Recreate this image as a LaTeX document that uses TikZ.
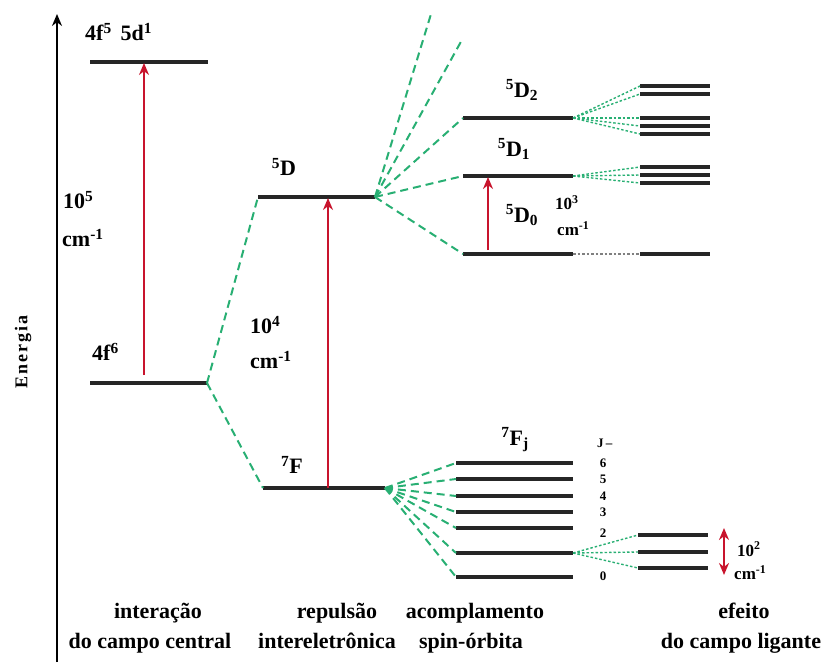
\documentclass[tikz,border=0pt]{standalone}
\usepackage{fontspec}
\setmainfont{Liberation Serif}
\newfontfamily\spacedfont[LetterSpace=12]{Liberation Serif}
\usetikzlibrary{arrows.meta}
\definecolor{splitgreen}{RGB}{40,175,115}
\definecolor{transred}{RGB}{200,20,45}

\begin{document}
\begin{tikzpicture}[x=1pt, y=-1pt, >={Stealth[length=12pt, width=10pt]},
    level/.style={line width=3.2pt, black!85},
    split/.style={splitgreen, line width=2pt, dash pattern=on 8pt off 5pt},
    fine/.style={splitgreen, line width=1.4pt, dash pattern=on 2.5pt off 2pt},
    trans/.style={->, transred, line width=2pt},
    lbl/.style={font=\bfseries\fontsize{22}{24}\selectfont, inner sep=0pt},
    small/.style={font=\bfseries\fontsize{17}{19}\selectfont, inner sep=0pt},
    jnum/.style={font=\bfseries\fontsize{13}{14}\selectfont, inner sep=0pt},
    caption/.style={font=\bfseries\fontsize{22}{30}\selectfont, anchor=base, inner sep=0pt}]
  \useasboundingbox (0,0) rectangle (824,662);

  % 1. eixo de energia
  \draw[->, line width=2.8pt] (57,662) -- (57,14);
  \node[rotate=90, font=\spacedfont\bfseries\fontsize{18}{19}\selectfont] (energia) at (23,352) {Energia};

  % 2. campo central
  \coordinate (fd-l) at (90,62);  \coordinate (fd-r) at (208,62);
  \coordinate (f6-l) at (90,383); \coordinate (f6-r) at (207,383);
  \draw[level] (fd-l) -- (fd-r);
  \draw[level] (f6-l) -- (f6-r);
  \node[lbl, anchor=west] (fd-lbl) at (85,32) {4f\textsuperscript{5}\hspace{0.4em}5d\textsuperscript{1}};
  \node[lbl, anchor=west] (f6-lbl) at (92,352) {4f\textsuperscript{6}};
  \coordinate (t1-a) at (144,375); \coordinate (t1-b) at (144,63);
  \draw[trans] (t1-a) -- (t1-b);
  \node[lbl, anchor=west] (e5) at (63,200) {10\textsuperscript{5}};
  \node[lbl, anchor=west] (e5u) at (62,238) {cm\textsuperscript{-1}};

  % 3. repulsao intereletronica
  \coordinate (d5-l) at (258,197); \coordinate (d5-r) at (375,197);
  \coordinate (f7-l) at (263,488); \coordinate (f7-r) at (385,488);
  \draw[level] (d5-l) -- (d5-r);
  \draw[level] (f7-l) -- (f7-r);
  \draw[split] (f6-r) -- (d5-l);
  \draw[split] (f6-r) -- (f7-l);
  \node[lbl] (d5-lbl) at (284,167) {\textsuperscript{5}D};
  \node[lbl] (f7-lbl) at (292,465) {\textsuperscript{7}F};
  \coordinate (t2-a) at (328,488); \coordinate (t2-b) at (328,198);
  \draw[trans] (t2-a) -- (t2-b);
  \node[lbl, anchor=west] (e4) at (250,325) {10\textsuperscript{4}};
  \node[lbl, anchor=west] (e4u) at (250,360) {cm\textsuperscript{-1}};

  % 4. acoplamento spin-orbita
  \coordinate (open-a) at (431,14); \coordinate (open-b) at (463,38);
  \foreach \j/\y in {2/118, 1/176, 0/254} {
    \coordinate (dj\j-l) at (463,\y); \coordinate (dj\j-r) at (573,\y);
    \draw[level] (dj\j-l) -- (dj\j-r);
    \draw[split] (d5-r) -- (dj\j-l);
  }
  \draw[split] (d5-r) -- (open-a);
  \draw[split] (d5-r) -- (open-b);
  \node[lbl] (dj2-lbl) at (522,90) {\textsuperscript{5}D\textsubscript{2}};
  \node[lbl] (dj1-lbl) at (514,149) {\textsuperscript{5}D\textsubscript{1}};
  \node[lbl] (dj0-lbl) at (522,215) {\textsuperscript{5}D\textsubscript{0}};
  \coordinate (t3-a) at (488,250); \coordinate (t3-b) at (488,177);
  \draw[trans] (t3-a) -- (t3-b);
  \node[small, anchor=west] (e3) at (555,203) {10\textsuperscript{3}};
  \node[small, anchor=west] (e3u) at (557,229) {cm\textsuperscript{-1}};

  \foreach \j/\y in {6/463, 5/479, 4/496, 3/512, 2/528, 1/553, 0/577} {
    \coordinate (fj\j-l) at (456,\y); \coordinate (fj\j-r) at (573,\y);
    \draw[level] (fj\j-l) -- (fj\j-r);
    \draw[split] (f7-r) -- (fj\j-l);
  }
  \node[lbl] (fj-lbl) at (515,440) {\textsuperscript{7}F\textsubscript{j}};
  \node[jnum, anchor=west] (jhead) at (597,443) {J\,--};
  \foreach \j/\y in {6/463, 5/479, 4/496, 3/512, 2/533, 0/576}
    \node[jnum] (jn\j) at (603,\y) {\j};

  % 5. efeito do campo ligante
  \foreach \k/\y in {a/86, b/94, c/118, d/126, e/134} {
    \coordinate (cf2\k-l) at (640,\y); \coordinate (cf2\k-r) at (710,\y);
    \draw[level] (cf2\k-l) -- (cf2\k-r);
    \draw[fine] (dj2-r) -- (cf2\k-l);
  }
  \foreach \k/\y in {a/167, b/175, c/183} {
    \coordinate (cf1\k-l) at (640,\y); \coordinate (cf1\k-r) at (710,\y);
    \draw[level] (cf1\k-l) -- (cf1\k-r);
    \draw[fine] (dj1-r) -- (cf1\k-l);
  }
  \coordinate (cf0-l) at (640,254); \coordinate (cf0-r) at (710,254);
  \draw[level] (cf0-l) -- (cf0-r);
  \draw[fine, gray] (dj0-r) -- (cf0-l);
  \foreach \k/\y in {a/535, b/552, c/568} {
    \coordinate (cf7\k-l) at (638,\y); \coordinate (cf7\k-r) at (708,\y);
    \draw[level] (cf7\k-l) -- (cf7\k-r);
    \draw[fine] (fj1-r) -- (cf7\k-l);
  }
  \coordinate (t4-a) at (724,528); \coordinate (t4-b) at (724,575);
  \draw[trans, <->] (t4-a) -- (t4-b);
  \node[small, anchor=west] (e2) at (737,549) {10\textsuperscript{2}};
  \node[small, anchor=west] (e2u) at (734,573) {cm\textsuperscript{-1}};

  % 6. legendas
  \node[caption] (cap1a) at (158,618) {interação};
  \node[caption] (cap1b) at (150,648) {do campo central};
  \node[caption] (cap2a) at (337,618) {repulsão};
  \node[caption] (cap2b) at (327,648) {intereletrônica};
  \node[caption] (cap3a) at (475,618) {acomplamento};
  \node[caption] (cap3b) at (471,648) {spin-órbita};
  \node[caption] (cap4a) at (744,618) {efeito};
  \node[caption] (cap4b) at (741,648) {do campo ligante};
\end{tikzpicture}
\end{document}
